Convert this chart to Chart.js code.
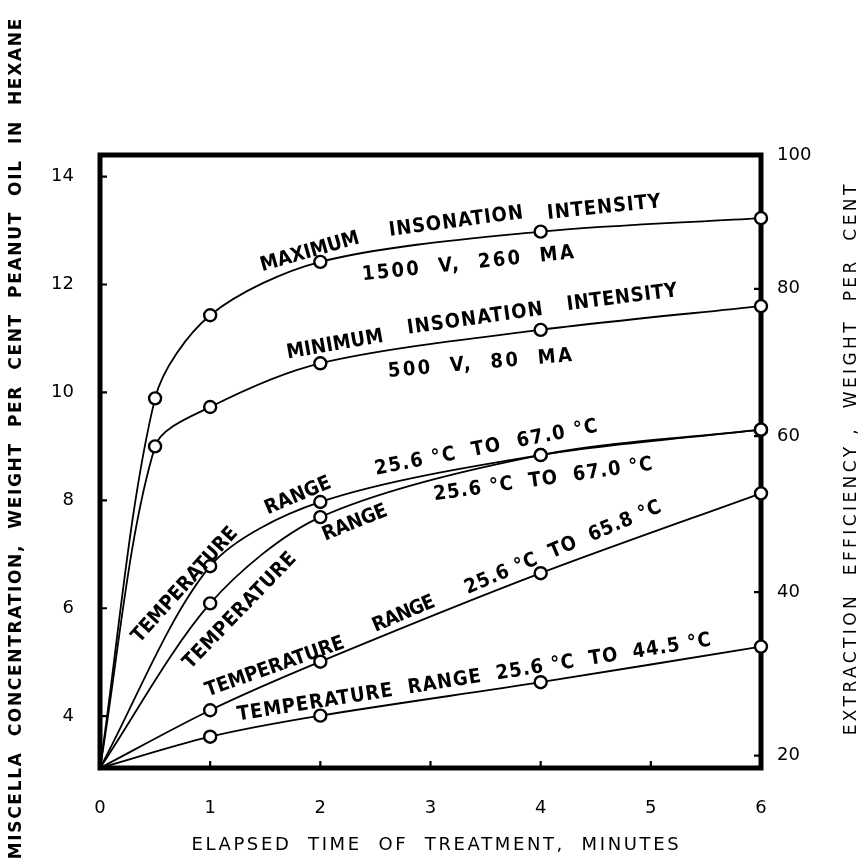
<!DOCTYPE html>
<html>
<head>
<meta charset="utf-8">
<script src="https://cdn.jsdelivr.net/npm/chart.js@4.4.1/dist/chart.umd.min.js"></script>
<style>
html,body{margin:0;padding:0;background:#fff;}
canvas{display:block;}
</style>
</head>
<body>
<canvas id="c" width="866" height="867"></canvas>
<script>
// ---- data ----
const insonationMinutes = [0, 0.5, 1, 2, 4, 6];
const maxInsonationConc = [3.04, 9.89, 11.43, 12.42, 12.98, 13.23];
const minInsonationConc = [3.04, 9.00, 9.73, 10.54, 11.16, 11.60];

const temperatureMinutes = [0, 1, 2, 4, 6];
const temp670UpperConc = [3.04, 6.78, 7.97, 8.84, 9.31];
const temp670LowerConc = [3.04, 6.09, 7.69, 8.84, 9.31];
const temp658Conc = [3.04, 4.11, 5.01, 6.65, 8.13];
const temp445Conc = [3.04, 3.62, 4.01, 4.63, 5.29];

const minuteTicks = [0, 1, 2, 3, 4, 5, 6];
const concentrationTicks = [4, 6, 8, 10, 12, 14];
const efficiencyLabels = [20, 40, 60, 80, 100];
const efficiencyAsConcentration = [3.27, 6.30, 9.19, 11.92, 14.4];

const concMin = 3.04, concMax = 14.4;

// ---- annotations (data-space anchors) ----
const annotations = [
  {t:'MAXIMUM', x:1.906, y:12.60, a:-16, len:102},
  {t:'INSONATION', x:3.231, y:13.16, a:-7.5, len:136},
  {t:'INTENSITY', x:4.575, y:13.42, a:-6, len:115},
  {t:'1500  V,  260  MA', x:3.340, y:12.38, a:-6, len:215},
  {t:'MINIMUM', x:2.133, y:10.88, a:-10, len:98},
  {t:'INSONATION', x:3.404, y:11.36, a:-8, len:138},
  {t:'INTENSITY', x:4.738, y:11.75, a:-7.3, len:112},
  {t:'500  V,  80  MA', x:3.449, y:10.53, a:-5, len:187},
  {t:'TEMPERATURE', x:0.772, y:6.43, a:-48, len:148},
  {t:'RANGE', x:1.797, y:8.08, a:-23, len:70},
  {t:'25.6 °C  TO  67.0 °C', x:3.504, y:8.97, a:-11, len:228},
  {t:'TEMPERATURE', x:1.271, y:5.95, a:-46, len:154},
  {t:'RANGE', x:2.315, y:7.58, a:-22, len:68},
  {t:'25.6 °C  TO  67.0 °C', x:4.021, y:8.38, a:-8, len:222},
  {t:'TEMPERATURE', x:1.588, y:4.91, a:-19.5, len:146},
  {t:'RANGE', x:2.759, y:5.89, a:-23, len:65},
  {t:'25.6 °C  TO  65.8 °C', x:4.203, y:7.12, a:-23, len:212},
  {t:'TEMPERATURE  RANGE  25.6 °C  TO  44.5 °C', x:3.395, y:4.71, a:-9, len:480}
];

function pts(xs, ys){ return xs.map((x,i)=>({x:x, y:ys[i]})); }

function series(label, xs, ys){
  return {
    label: label,
    data: pts(xs, ys),
    borderColor: '#000',
    borderWidth: 1.8,
    tension: 0.3,
    fill: false,
    clip: false,
    pointRadius: (ctx) => ctx.dataIndex === 0 ? 0 : 6,
    pointBackgroundColor: '#fff',
    pointBorderColor: '#000',
    pointBorderWidth: 2.4,
    pointHoverRadius: 6
  };
}

function drawSpaced(ctx, text, cx, cy, angleDeg, len, font){
  ctx.save();
  ctx.font = font;
  ctx.fillStyle = '#000';
  ctx.textAlign = 'center';
  ctx.textBaseline = 'middle';
  let s = 0;
  if ('letterSpacing' in ctx){
    ctx.letterSpacing = '0px';
    const w0 = ctx.measureText(text).width;
    s = (len - w0) / text.length;
    ctx.letterSpacing = s.toFixed(2) + 'px';
  }
  ctx.translate(cx, cy);
  ctx.rotate(angleDeg * Math.PI / 180);
  ctx.fillText(text, s/2, 0);
  ctx.restore();
}

const framePlugin = {
  id: 'frame',
  beforeDraw(chart){
    const c = chart.ctx;
    c.save();
    c.fillStyle = '#fff';
    c.fillRect(0, 0, chart.width, chart.height);
    c.restore();
  },
  beforeDatasetsDraw(chart){
    const c = chart.ctx, a = chart.chartArea;
    const xs = chart.scales.x, yl = chart.scales.y, yr = chart.scales.y2;
    c.save();
    c.strokeStyle = '#000';
    c.lineWidth = 5;
    c.lineJoin = 'miter';
    c.strokeRect(a.left, a.top, a.right - a.left, a.bottom - a.top);
    c.lineWidth = 2.2;
    c.beginPath();
    concentrationTicks.forEach(v => {
      const y = yl.getPixelForValue(v);
      c.moveTo(a.left, y); c.lineTo(a.left + 7, y);
    });
    minuteTicks.forEach(v => {
      if (v === 0 || v === 6) return;
      const x = xs.getPixelForValue(v);
      c.moveTo(x, a.bottom); c.lineTo(x, a.bottom - 7);
    });
    efficiencyAsConcentration.forEach(v => {
      if (v >= concMax) return;
      const y = yr.getPixelForValue(v);
      c.moveTo(a.right, y); c.lineTo(a.right - 7, y);
    });
    c.stroke();
    c.restore();
  },
  afterDraw(chart){
    const c = chart.ctx;
    const xs = chart.scales.x, yl = chart.scales.y;
    const f = 'bold 20px "DejaVu Sans Condensed", "DejaVu Sans"';
    annotations.forEach(n => {
      drawSpaced(c, n.t, xs.getPixelForValue(n.x), yl.getPixelForValue(n.y), n.a, n.len, f);
    });
    drawSpaced(c, 'MISCELLA  CONCENTRATION,  WEIGHT  PER  CENT  PEANUT  OIL  IN  HEXANE',
      17, 439, -90, 842, 'bold 17px "DejaVu Sans"');
    drawSpaced(c, 'EXTRACTION  EFFICIENCY ,  WEIGHT  PER  CENT',
      852, 460, -90, 554, '17px "DejaVu Sans"');
    drawSpaced(c, 'ELAPSED  TIME  OF  TREATMENT,  MINUTES',
      435, 845, 0, 490, '18px "DejaVu Sans"');
  }
};

const tickFont = {family: 'DejaVu Sans', size: 18};

new Chart(document.getElementById('c'), {
  type: 'line',
  data: {
    datasets: [
      series('Maximum insonation intensity 1500 V, 260 MA', insonationMinutes, maxInsonationConc),
      series('Minimum insonation intensity 500 V, 80 MA', insonationMinutes, minInsonationConc),
      series('Temperature range 25.6 °C to 67.0 °C (a)', temperatureMinutes, temp670UpperConc),
      series('Temperature range 25.6 °C to 67.0 °C (b)', temperatureMinutes, temp670LowerConc),
      series('Temperature range 25.6 °C to 65.8 °C', temperatureMinutes, temp658Conc),
      series('Temperature range 25.6 °C to 44.5 °C', temperatureMinutes, temp445Conc)
    ]
  },
  options: {
    responsive: false,
    animation: false,
    devicePixelRatio: 1,
    layout: {padding: {top: 155, left: 0, right: 0, bottom: 0}},
    plugins: {legend: {display: false}, tooltip: {enabled: false}},
    scales: {
      x: {
        type: 'linear', min: 0, max: 6,
        grid: {display: false, drawTicks: false},
        border: {display: false},
        afterBuildTicks: (s) => { s.ticks = minuteTicks.map(v => ({value: v})); },
        afterFit: (s) => { s.height = 99; },
        ticks: {color: '#000', font: tickFont, padding: 30, maxRotation: 0}
      },
      y: {
        type: 'linear', position: 'left', min: concMin, max: concMax,
        grid: {display: false, drawTicks: false},
        border: {display: false},
        afterBuildTicks: (s) => { s.ticks = concentrationTicks.map(v => ({value: v})); },
        afterFit: (s) => { s.width = 100; },
        ticks: {color: '#000', font: tickFont, padding: 26}
      },
      y2: {
        type: 'linear', position: 'right', min: concMin, max: concMax,
        grid: {display: false, drawTicks: false},
        border: {display: false},
        afterBuildTicks: (s) => { s.ticks = efficiencyAsConcentration.map(v => ({value: v})); },
        afterFit: (s) => { s.width = 105; },
        ticks: {
          color: '#000', font: tickFont, padding: 16,
          callback: (v, i) => String(efficiencyLabels[i])
        }
      }
    }
  },
  plugins: [framePlugin]
});
</script>
</body>
</html>
